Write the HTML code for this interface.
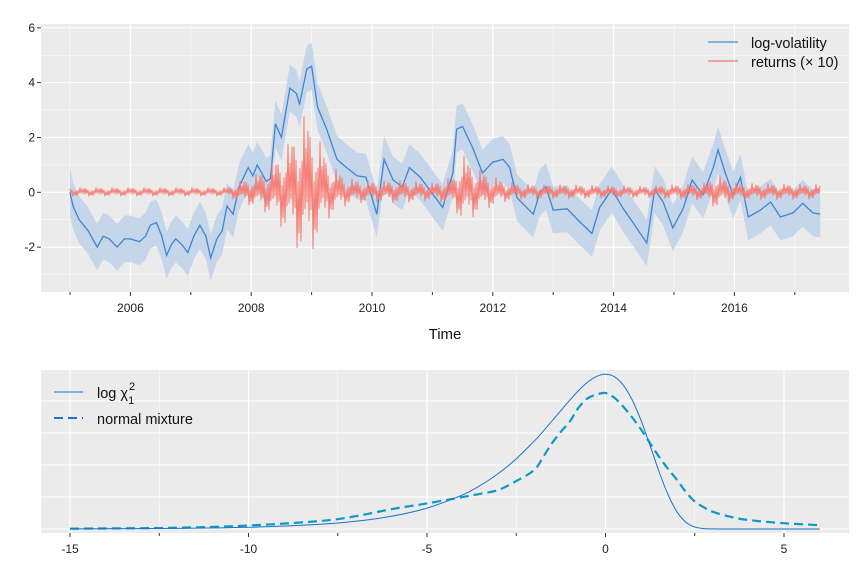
<!DOCTYPE html>
<html><head><meta charset="utf-8"><style>
html,body{margin:0;padding:0;background:#fff;}
svg{display:block;font-family:"Liberation Sans",Arial,sans-serif;}
</style></head><body>
<svg id="chart" width="864" height="576" viewBox="0 0 864 576"></svg>
<script>
// ---------- top panel data ----------
const volTimes = [2005.0,2005.05,2005.15,2005.3,2005.45,2005.55,2005.65,2005.78,2005.9,2006.0,2006.15,2006.25,2006.33,2006.43,2006.52,2006.6,2006.68,2006.75,2006.85,2006.95,2007.05,2007.15,2007.25,2007.33,2007.43,2007.52,2007.6,2007.7,2007.8,2007.95,2008.03,2008.1,2008.25,2008.32,2008.4,2008.5,2008.64,2008.75,2008.8,2008.92,2009.0,2009.1,2009.25,2009.42,2009.58,2009.75,2009.9,2010.08,2010.2,2010.35,2010.5,2010.62,2010.8,2010.95,2011.17,2011.34,2011.4,2011.5,2011.67,2011.83,2012.0,2012.17,2012.28,2012.4,2012.67,2012.78,2012.88,2013.0,2013.23,2013.45,2013.64,2013.77,2013.97,2014.16,2014.32,2014.55,2014.68,2014.82,2014.98,2015.15,2015.3,2015.48,2015.65,2015.73,2015.85,2015.98,2016.1,2016.23,2016.43,2016.6,2016.76,2016.97,2017.13,2017.3,2017.42];
const volValues = [0,-0.5,-1.0,-1.4,-2.0,-1.6,-1.7,-2.0,-1.7,-1.7,-1.8,-1.6,-1.2,-1.1,-1.6,-2.3,-1.9,-1.7,-1.9,-2.2,-1.6,-1.2,-1.6,-2.4,-1.7,-1.4,-0.5,-0.8,0.2,0.9,0.6,1.0,0.4,0.5,2.5,2.0,3.8,3.6,3.2,4.5,4.6,3.1,2.3,1.2,0.9,0.6,0.55,-0.8,1.2,0.45,0.2,0.9,0.55,0.1,-0.55,0.7,2.3,2.4,1.6,0.7,1.1,1.2,0.9,-0.2,-0.8,0,0.2,-0.65,-0.6,-1.1,-1.5,-0.55,0.1,-0.6,-1.1,-1.85,0.1,-0.35,-1.3,-0.6,0.45,-0.1,0.9,1.55,0.7,-0.1,0.55,-0.9,-0.65,-0.35,-0.9,-0.75,-0.4,-0.75,-0.8];
const bandHalfWidth = 0.85;
const retTimes = [2005.0,2007.6,2007.75,2008.0,2008.3,2008.6,2008.75,2008.9,2009.1,2009.3,2009.6,2010.0,2010.4,2011.0,2011.35,2011.5,2011.8,2012.2,2012.5,2013.0,2014.5,2015.5,2015.7,2016.0,2017.42];
const retAmps  = [0.15,0.15,0.3,0.5,0.8,1.5,2.0,2.5,1.8,0.9,0.45,0.35,0.4,0.3,0.5,1.2,0.7,0.35,0.25,0.25,0.2,0.3,0.6,0.3,0.25];
const retPattern = [0.9,0.3,0.6,1.0,0.2,0.7,0.4,0.8,0.5,0.35,1.15,0.25,0.65,0.15,0.95,0.45];
const yearTicks = [2006,2008,2010,2012,2014,2016];
const yTicks = [-2,0,2,4,6];
// ---------- bottom panel data ----------
const densX = [-15,-12,-10,-8,-7,-6,-5,-4,-3.5,-3,-2.5,-2,-1.75,-1.5,-1.25,-1,-0.75,-0.5,-0.25,0,0.25,0.5,0.75,1,1.25,1.5,1.75,2,2.25,2.5,2.75,3,3.5,4,5,6];
const chiDens = [0.0002,0.001,0.0027,0.0073,0.012,0.0198,0.0327,0.0535,0.0683,0.0868,0.1097,0.1371,0.1525,0.1686,0.185,0.2013,0.2165,0.2295,0.2385,0.242,0.2379,0.2246,0.2014,0.169,0.1302,0.0898,0.0539,0.027,0.0107,0.0032,0.0006,0.0001,0,0,0,0];
const mixDens = [0.0005,0.002,0.0055,0.0125,0.02,0.031,0.04,0.05,0.055,0.061,0.075,0.092,0.112,0.134,0.152,0.168,0.19,0.204,0.21,0.2125,0.205,0.191,0.174,0.155,0.134,0.113,0.094,0.077,0.058,0.043,0.034,0.027,0.019,0.014,0.009,0.006];
const bottomTicks = [-15,-10,-5,0,5];

const NS="http://www.w3.org/2000/svg";
const svg=document.getElementById('chart');
function mk(tag,attrs,parent){const e=document.createElementNS(NS,tag);for(const k in attrs)e.setAttribute(k,attrs[k]);(parent||svg).appendChild(e);return e;}

const xT = t => 70 + (t-2005)*60.4;
const yT = v => 192.3 - v*27.42;
const xB = u => 605.5 + u*35.7;
const yB = d => 529 - d*640;
function interp(xs,ys,x){if(x<=xs[0])return ys[0];for(let i=1;i<xs.length;i++){if(x<=xs[i]){const f=(x-xs[i-1])/(xs[i]-xs[i-1]);return ys[i-1]+f*(ys[i]-ys[i-1]);}}return ys[ys.length-1];}

// ---------- top panel ----------
const topBg=mk('rect',{x:41,y:24,width:808,height:268,fill:'#EBEBEB'});


[-3,-1,1,3,5].forEach(v=>{const l=mk('line',{x1:41,x2:849,y1:yT(v),y2:yT(v),stroke:'#fff','stroke-width':0.5});

});
[2005,2007,2009,2011,2013,2015,2017].forEach(t=>{const l=mk('line',{x1:xT(t),x2:xT(t),y1:24,y2:292,stroke:'#fff','stroke-width':0.5});

});
yTicks.forEach(v=>{const l=mk('line',{x1:41,x2:849,y1:yT(v),y2:yT(v),stroke:'#fff','stroke-width':1.1});


const tk=mk('line',{x1:37,x2:41,y1:yT(v),y2:yT(v),stroke:'#333','stroke-width':1});


const tx=mk('text',{x:35,y:yT(v)+4,'text-anchor':'end','font-size':12,fill:'#222'});tx.textContent=v;

});
yearTicks.forEach(t=>{const l=mk('line',{x1:xT(t),x2:xT(t),y1:24,y2:292,stroke:'#fff','stroke-width':1.1});


const tk=mk('line',{x1:xT(t),x2:xT(t),y1:292,y2:296,stroke:'#333'});


const tx=mk('text',{x:xT(t),y:312,'text-anchor':'middle','font-size':12,fill:'#222'});tx.textContent=t;

});
[2005,2007,2009,2011,2013,2015,2017].forEach(t=>{const tk=mk('line',{x1:xT(t),x2:xT(t),y1:292,y2:295,stroke:'#333'});

});

let up=[],lo=[];
for(let i=0;i<volTimes.length;i++){up.push(xT(volTimes[i]).toFixed(1)+','+yT(volValues[i]+bandHalfWidth).toFixed(1));lo.unshift(xT(volTimes[i]).toFixed(1)+','+yT(volValues[i]-bandHalfWidth).toFixed(1));}
const band=mk('polygon',{points:up.concat(lo).join(' '),fill:'#C3D4EA',opacity:0.95});


const vpts=volTimes.map((t,i)=>xT(t).toFixed(1)+','+yT(volValues[i]).toFixed(1)).join(' ');
const vl=mk('polyline',{points:vpts,fill:'none',stroke:'#3E85D3','stroke-width':1.3});


let rp=[];let k=0;
for(let x=xT(retTimes[0]);x<=xT(retTimes[retTimes.length-1]);x+=1){
  const t=2005+(x-70)/60.4;const a=interp(retTimes,retAmps,t);
  const m=retPattern[k%retPattern.length]*(k%2?-1:1);k++;
  rp.push(x.toFixed(2)+','+yT(a*m).toFixed(1));
}
const rl=mk('polyline',{points:rp.join(' '),fill:'none',stroke:'#F8766D','stroke-width':1,opacity:0.95});



const xtitle=mk('text',{x:445,y:339,'text-anchor':'middle','font-size':15,fill:'#111'});xtitle.textContent='Time';


const lg1=mk('line',{x1:708,x2:738,y1:42,y2:42,stroke:'#1874CD','stroke-width':1});


const lt1=mk('text',{x:751,y:48,'font-size':14.5,fill:'#111'});lt1.textContent='log-volatility';


const lg2=mk('line',{x1:708,x2:738,y1:61,y2:61,stroke:'#E4605A','stroke-width':1});


const lt2=mk('text',{x:751,y:67,'font-size':14.5,fill:'#111'});lt2.textContent='returns (× 10)';



// ---------- bottom panel ----------
const botBg=mk('rect',{x:41,y:370,width:808,height:163,fill:'#EBEBEB'});


[0,0.05,0.1,0.15,0.2].forEach(d=>{const l=mk('line',{x1:41,x2:849,y1:yB(d),y2:yB(d),stroke:'#fff','stroke-width':1.1});

});
[-12.5,-7.5,-2.5,2.5].forEach(u=>{const l=mk('line',{x1:xB(u),x2:xB(u),y1:370,y2:533,stroke:'#fff','stroke-width':0.5});


const tk=mk('line',{x1:xB(u),x2:xB(u),y1:533,y2:536,stroke:'#333'});

});
bottomTicks.forEach(u=>{const l=mk('line',{x1:xB(u),x2:xB(u),y1:370,y2:533,stroke:'#fff','stroke-width':1.1});


const tk=mk('line',{x1:xB(u),x2:xB(u),y1:533,y2:537,stroke:'#333'});


const tx=mk('text',{x:xB(u),y:553,'text-anchor':'middle','font-size':12,fill:'#222'});tx.textContent=u;

});

function curvePath(xs,ys){
  const P=xs.map((x,i)=>[xB(x),yB(ys[i])]);
  let d='M'+P[0][0].toFixed(1)+','+P[0][1].toFixed(1);
  for(let i=0;i<P.length-1;i++){
    const p0=P[Math.max(0,i-1)],p1=P[i],p2=P[i+1],p3=P[Math.min(P.length-1,i+2)];
    const c1=[p1[0]+(p2[0]-p0[0])/6,p1[1]+(p2[1]-p0[1])/6];
    const c2=[p2[0]-(p3[0]-p1[0])/6,p2[1]-(p3[1]-p1[1])/6];
    d+=' C'+c1[0].toFixed(1)+','+c1[1].toFixed(1)+' '+c2[0].toFixed(1)+','+c2[1].toFixed(1)+' '+p2[0].toFixed(1)+','+p2[1].toFixed(1);
  }
  return d;
}
const mix=mk('path',{d:curvePath(densX,mixDens),fill:'none',stroke:'#0E9AC0','stroke-width':2.2,'stroke-dasharray':'9,5'});


const chi=mk('path',{d:curvePath(densX,chiDens),fill:'none',stroke:'#1874CD','stroke-width':1});



const bl1=mk('line',{x1:54,x2:83,y1:392,y2:392,stroke:'#1874CD','stroke-width':1});


const bt1=mk('text',{x:97,y:398,'font-size':14.5,fill:'#111'});


bt1.innerHTML='log χ<tspan dx="1" dy="-8" font-size="11">2</tspan><tspan dx="-7" dy="14" font-size="11">1</tspan>';
const bl2=mk('line',{x1:54,x2:83,y1:418,y2:418,stroke:'#1874CD','stroke-width':2,'stroke-dasharray':'9,5'});


const bt2=mk('text',{x:97,y:424,'font-size':14.5,fill:'#111'});bt2.textContent='normal mixture';


</script>
</body></html>
